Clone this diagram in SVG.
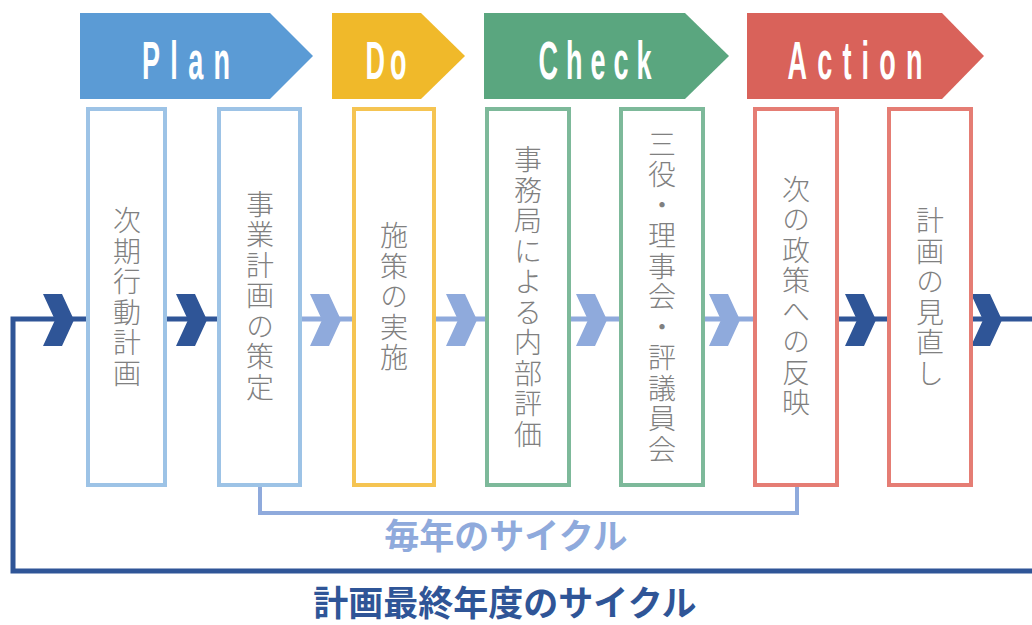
<svg xmlns="http://www.w3.org/2000/svg" width="1032" height="625" viewBox="0 0 1032 625">
<style>
.bn{font-family:"Liberation Sans",Arial,sans-serif;font-weight:bold;font-size:54px;fill:#fff;text-anchor:middle}
.bx{fill:#fff;stroke-width:4}
.vt{font-family:"Noto Sans CJK JP","Noto Sans CJK SC",sans-serif;font-weight:300;font-size:28px;fill:#808080;writing-mode:vertical-rl;text-anchor:middle;letter-spacing:2.5px}
.dk{fill:#2F5597}
.lt{fill:#8FAADC}
.cyc{font-family:"Noto Sans CJK JP",sans-serif;font-weight:bold;font-size:35px;text-anchor:middle}
</style>
<defs>
<polygon id="chev" points="0,-26 19,-26 31,0 19,26 0,26 12,0"/>
</defs>
<g id="connectors">
  <polyline points="86,319 13,319 13,571 1032,571" fill="none" stroke="#2F5597" stroke-width="5"/>
  <line x1="167" y1="319" x2="217" y2="319" stroke="#2F5597" stroke-width="5"/>
  <line x1="302" y1="319" x2="352" y2="319" stroke="#8FAADC" stroke-width="5"/>
  <line x1="436" y1="319" x2="485" y2="319" stroke="#8FAADC" stroke-width="5"/>
  <line x1="571" y1="319" x2="619" y2="319" stroke="#8FAADC" stroke-width="5"/>
  <line x1="705" y1="319" x2="753" y2="319" stroke="#8FAADC" stroke-width="5"/>
  <line x1="839" y1="319" x2="887" y2="319" stroke="#2F5597" stroke-width="5"/>
  <line x1="973" y1="319" x2="1032" y2="319" stroke="#2F5597" stroke-width="5"/>
  <use href="#chev" class="dk" x="43" y="320"/>
  <use href="#chev" class="dk" x="176" y="320"/>
  <use href="#chev" class="lt" x="310" y="320"/>
  <use href="#chev" class="lt" x="446" y="320"/>
  <use href="#chev" class="lt" x="576" y="320"/>
  <use href="#chev" class="lt" x="709" y="320"/>
  <use href="#chev" class="dk" x="845" y="320"/>
  <use href="#chev" class="dk" x="971" y="320"/>
  <polyline points="260,487 260,513 797,513 797,487" fill="none" stroke="#8FAADC" stroke-width="4"/>
</g>
<g id="banner-plan">
  <polygon points="80,13 270,13 313,56 270,99 80,99" fill="#5B9BD5"/>
  <text class="bn" transform="translate(186,79) scale(0.5,1)" textLength="176" lengthAdjust="spacing">Plan</text>
</g>
<g id="banner-do">
  <polygon points="332,13 421,13 465,56 421,99 332,99" fill="#F0B92A"/>
  <text class="bn" transform="translate(386,79) scale(0.5,1)" textLength="82" lengthAdjust="spacing">Do</text>
</g>
<g id="banner-check">
  <polygon points="484,13 685,13 729,56 685,99 484,99" fill="#5AA67F"/>
  <text class="bn" transform="translate(595,79) scale(0.5,1)" textLength="226" lengthAdjust="spacing">Check</text>
</g>
<g id="banner-action">
  <polygon points="747,13 942,13 984,56 942,99 747,99" fill="#D9625A"/>
  <text class="bn" transform="translate(855,79) scale(0.5,1)" textLength="270" lengthAdjust="spacing">Action</text>
</g>
<g id="box1">
  <rect class="bx" x="88" y="109" width="77" height="376" stroke="#9DC3E6"/>
  <text class="vt" x="127" y="298">次期行動計画</text>
</g>
<g id="box2">
  <rect class="bx" x="219" y="109" width="81" height="376" stroke="#9DC3E6"/>
  <text class="vt" x="260" y="297">事業計画の策定</text>
</g>
<g id="box3">
  <rect class="bx" x="354" y="109" width="80" height="376" stroke="#F5C452"/>
  <text class="vt" x="394" y="298">施策の実施</text>
</g>
<g id="box4">
  <rect class="bx" x="487" y="109" width="82" height="376" stroke="#7DB99A"/>
  <text class="vt" x="528" y="298">事務局による内部評価</text>
</g>
<g id="box5">
  <rect class="bx" x="621" y="109" width="82" height="376" stroke="#7DB99A"/>
  <text class="vt" x="662" y="298">三役・理事会・評議員会</text>
</g>
<g id="box6">
  <rect class="bx" x="755" y="109" width="82" height="376" stroke="#E57D74"/>
  <text class="vt" x="796" y="297">次の政策への反映</text>
</g>
<g id="box7">
  <rect class="bx" x="889" y="109" width="82" height="376" stroke="#E57D74"/>
  <text class="vt" x="930" y="298">計画の見直し</text>
</g>
<g id="labels">
  <text class="cyc" x="506" y="549" fill="#8FAADC">毎年のサイクル</text>
  <text class="cyc" x="505" y="616" fill="#2F5597">計画最終年度のサイクル</text>
</g>
</svg>
